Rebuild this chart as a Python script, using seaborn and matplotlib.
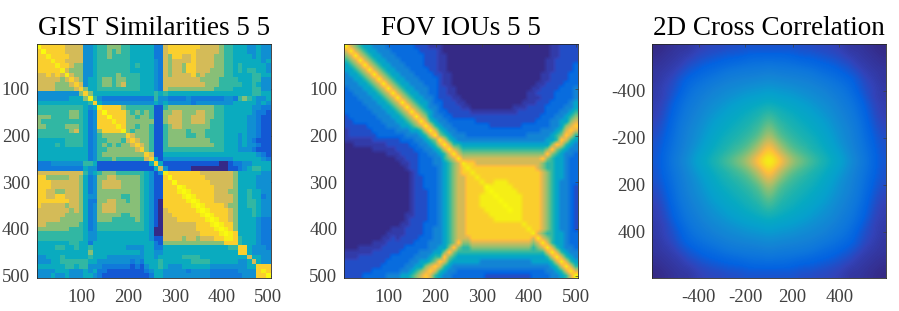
import numpy as np
import seaborn as sns
import matplotlib
matplotlib.use('Agg')
import matplotlib.pyplot as plt
from matplotlib.colors import LinearSegmentedColormap

# upper triangle of the symmetric matrices, one digit per 10 frames (0 low, a high, b between 0 and 1)
GIST_ROWS = [
    "a888887777 3345566655 4444422788 8888877776 5544433433",
    ".a88887777 3345565655 4444422788 8888777776 5544433433",
    "..98888777 3345565555 4444422768 8778777766 5544443433",
    "...9887777 3345555555 4444432767 7778777766 5544444434",
    "....988766 3345555555 4544432767 7688777766 5545444443",
    ".....97666 3345555555 4444432767 7688777666 5545455443",
    "......9766 3345555655 5544432767 7778676666 5544445544",
    ".......876 3445665665 5544432777 7777766665 5554445533",
    "........87 3445665675 5544432777 7777776665 5555445433",
    ".........8 6445555555 5544432766 6666666655 5544445533",
    ".......... 8644444444 4444454544 4444444444 4444445544",
    ".......... .953222222 2222253322 2232222222 3325654334",
    ".......... ..84333333 3333343433 3332333333 3344444343",
    ".......... ...9888865 5555511566 6666666655 4444443322",
    ".......... ....a88886 5656511667 7666776655 4444443221",
    ".......... .....a8886 6566511677 7667776655 4444433211",
    ".......... ......9886 6666611677 7667776555 4444433211",
    ".......... .......986 6566511567 7666666555 4444433211",
    ".......... ........96 5666511566 6656665555 4444433211",
    ".......... .........8 7666511566 6655665555 4443433211",
    ".......... .......... 8766511566 6666666555 4443432111",
    ".......... .......... .876511566 6666666655 4443433211",
    ".......... .......... ..86511555 5555555555 4443332111",
    ".......... .......... ...8711444 4444444444 4444444321",
    ".......... .......... ....841333 3333333333 3344444432",
    ".......... .......... .....84111 1111111110 0122334444",
    ".......... .......... ......7311 1110000000 0112345544",
    ".......... .......... .......988 8888877777 7764444433",
    ".......... .......... ........a8 8888887777 7764444333",
    ".......... .......... .........a 8888888777 7764444333",
    ".......... .......... .......... a988888877 7764444333",
    ".......... .......... .......... .a98888877 7664454433",
    ".......... .......... .......... ..a9888877 7764454423",
    ".......... .......... .......... ...a988877 7764455433",
    ".......... .......... .......... ....a98888 7664455433",
    ".......... .......... .......... .....a9888 8764445433",
    ".......... .......... .......... ......a988 8764445433",
    ".......... .......... .......... .......a98 8764444322",
    ".......... .......... .......... ........a9 8864444322",
    ".......... .......... .......... .........a 9864444322",
    ".......... .......... .......... .......... a984444322",
    ".......... .......... .......... .......... .985444322",
    ".......... .......... .......... .......... ..85444322",
    ".......... .......... .......... .......... ...8843332",
    ".......... .......... .......... .......... ....843333",
    ".......... .......... .......... .......... .....74433",
    ".......... .......... .......... .......... ......7433",
    ".......... .......... .......... .......... .......888",
    ".......... .......... .......... .......... ........98",
    ".......... .......... .......... .......... .........a",
]

FOV_ROWS = [
    "9765443332 22222111bb b000000000 0000000000 0000bb1111",
    ".976544333 2222221111 b000000000 0000000000 0000bb1111",
    "..97654433 3222222111 bb00000000 0000000000 0000bb1111",
    "...9765443 3322222111 bb00000000 0000000000 000bb11111",
    "....976544 3332222111 bb00000000 0000000000 000bb11112",
    ".....97654 4333222211 bb00000000 0000000000 000bb11112",
    "......9765 4433322221 1bb0000000 0000000000 00bb111122",
    ".......976 5443332222 1bb0000000 0000000000 00bb111122",
    "........97 6544333222 1bb0000000 0000000000 0bb1111222",
    ".........9 7654433322 11bb000000 0000000000 bb11112223",
    ".......... 9765443322 11bb000000 000000000b b111122223",
    ".......... .976544332 111bb00000 000000000b bb11122223",
    ".......... ..97654432 2111bb0000 00000000bb b111222234",
    ".......... ...9765433 21111bb000 000000bbb1 1112222334",
    ".......... ....976543 2211111bbb bbbbbbb111 1112223345",
    ".......... .....97643 3221111111 1111111111 1122233456",
    ".......... ......9754 3322222211 1111111111 1222334467",
    ".......... .......975 4332222222 2111111122 2222334678",
    ".......... ........97 5433222222 2222222222 2233345787",
    ".......... .........9 6543332222 2222222223 3333456875",
    ".......... .......... 9754333333 3333333333 3334458754",
    ".......... .......... .975544444 4444444444 4444687543",
    ".......... .......... ..97655555 5555555555 5556865433",
    ".......... .......... ...9766666 6666666666 6668654332",
    ".......... .......... ....977777 7777777777 7786544322",
    ".......... .......... .....98877 7777777777 7765544322",
    ".......... .......... ......9888 8888888888 8765544322",
    ".......... .......... .......988 8888888888 8876544322",
    ".......... .......... ........98 8888888888 8876544322",
    ".......... .......... .........9 8899988888 8876543322",
    ".......... .......... .......... a999998888 8876543321",
    ".......... .......... .......... .a99999888 8876543321",
    ".......... .......... .......... ..a9999988 8876543321",
    ".......... .......... .......... ...a999988 8876543321",
    ".......... .......... .......... ....a99988 8876543321",
    ".......... .......... .......... .....a9988 8876543321",
    ".......... .......... .......... ......9988 8876543321",
    ".......... .......... .......... .......988 8876543321",
    ".......... .......... .......... ........98 8876543321",
    ".......... .......... .......... .........9 8876543321",
    ".......... .......... .......... .......... 9765544322",
    ".......... .......... .......... .......... .976544322",
    ".......... .......... .......... .......... ..97544322",
    ".......... .......... .......... .......... ...9754332",
    ".......... .......... .......... .......... ....975433",
    ".......... .......... .......... .......... .....97543",
    ".......... .......... .......... .......... ......9754",
    ".......... .......... .......... .......... .......975",
    ".......... .......... .......... .......... ........97",
    ".......... .......... .......... .......... .........a",
]

# one quadrant of the cross correlation, centre at top left, mirrored below
CORR_QUADRANT = [
    [100, 92, 78, 66, 60, 55, 50, 46, 41, 36, 30, 24, 18, 13, 10],
    [92, 78, 66, 58, 54, 50, 47, 43, 38, 34, 28, 22, 17, 13, 9],
    [82, 68, 58, 53, 50, 47, 44, 40, 36, 31, 26, 21, 16, 12, 9],
    [70, 58, 53, 50, 47, 45, 42, 38, 34, 29, 25, 20, 15, 11, 8],
    [62, 54, 50, 47, 45, 42, 39, 36, 32, 28, 24, 19, 14, 10, 7],
    [56, 50, 47, 45, 42, 40, 37, 34, 30, 26, 22, 18, 13, 9, 6],
    [50, 47, 44, 42, 39, 37, 34, 31, 28, 24, 21, 16, 12, 8, 5],
    [44, 42, 40, 38, 36, 34, 31, 29, 26, 22, 19, 15, 11, 7, 5],
    [38, 36, 35, 34, 32, 30, 28, 26, 23, 20, 17, 13, 9, 6, 4],
    [33, 32, 31, 30, 28, 27, 25, 23, 20, 18, 15, 11, 8, 6, 4],
    [28, 27, 26, 25, 24, 23, 21, 19, 17, 15, 13, 10, 7, 5, 3],
    [23, 22, 21, 21, 20, 19, 17, 15, 14, 12, 10, 8, 5, 4, 3],
    [18, 17, 17, 16, 15, 14, 13, 12, 11, 9, 8, 5, 4, 3, 2],
    [13, 13, 13, 12, 11, 11, 10, 9, 8, 7, 5, 4, 3, 2, 1],
    [9, 9, 9, 9, 8, 8, 7, 7, 6, 5, 3, 3, 2, 1, 0],
]

TITLES = ['GIST Similarities 5 5', 'FOV IOUs 5 5', '2D Cross Correlation']
FRAME_TICKS = [100, 200, 300, 400, 500]
# the original labels four evenly spaced ticks, so they do not sit at their own value
LAG_TICKS = [-398, -133, 133, 398]
LAG_LABELS = [-400, -200, 200, 400]
LAG_LIMIT = 660
# where each digit of the rows falls on the colour scale
GIST_POS = np.array([0.0, 0.1, 0.2, 0.3, 0.42, 0.5, 0.62, 0.74, 0.87, 0.95, 1.0, 0.05])
FOV_POS = np.array([0.0, 0.08, 0.15, 0.25, 0.38, 0.5, 0.62, 0.74, 0.87, 0.95, 1.0, 0.04])

PARULA = [
    (0.2081, 0.1663, 0.5292), (0.1959, 0.2645, 0.7279), (0.0117, 0.3875, 0.8820),
    (0.0498, 0.4586, 0.8641), (0.0779, 0.5040, 0.8384), (0.0641, 0.5570, 0.8240),
    (0.0239, 0.6287, 0.8038), (0.0267, 0.6642, 0.7607), (0.1133, 0.7015, 0.6859),
    (0.2586, 0.7317, 0.5954), (0.4420, 0.7481, 0.5033), (0.6099, 0.7473, 0.4337),
    (0.7525, 0.7384, 0.3768), (0.8824, 0.7274, 0.3217), (0.9938, 0.7455, 0.2403),
    (0.9789, 0.8271, 0.1633), (0.9598, 0.9218, 0.0948), (0.9763, 0.9831, 0.0538),
]


def read_rows(rows, positions):
    # fill the lower triangle from the upper one
    cells = [r.replace(' ', '') for r in rows]
    m = np.array([[0 if c == '.' else int(c, 16) for c in r] for r in cells])
    m = m + np.triu(m, 1).T
    return positions[m]


def style_axis(ax, title):
    ax.set_title(title, fontsize=19.5, color='black', pad=7)
    ax.tick_params(direction='in', length=2, width=0.5, colors='#404040', labelsize=13.5,
                   top=True, right=True, pad=5)
    ax.tick_params(axis='x', pad=8)
    for spine in ax.spines.values():
        spine.set_visible(True)
        spine.set_linewidth(0.6)
        spine.set_color('#262626')


sns.set_theme(style='white')
plt.rcParams['font.family'] = ['Liberation Serif', 'DejaVu Serif']

parula = LinearSegmentedColormap.from_list('parula', PARULA, N=256)

W, H = 899, 311
fig = plt.figure(figsize=(W / 100, H / 100), dpi=100)
boxes = [(36.7, 270.5), (344.3, 578.3), (652.3, 885.7)]
axes = [fig.add_axes([l / W, 1 - 278 / H, (r - l) / W, 233.5 / H]) for l, r in boxes]

# cells are centred on 10, 20 ... 500
frame_pos = [(v - 5) / 10 for v in FRAME_TICKS]

ax = axes[0]
sns.heatmap(read_rows(GIST_ROWS, GIST_POS), ax=ax, cmap=parula, vmin=0, vmax=1, cbar=False,
            xticklabels=False, yticklabels=False)
ax.set_xticks(frame_pos)
ax.set_xticklabels(FRAME_TICKS, rotation=0)
ax.set_yticks(frame_pos)
ax.set_yticklabels(FRAME_TICKS, rotation=0)
style_axis(ax, TITLES[0])

# the FOV levels are coarse, smooth them when drawn only
ax = axes[1]
ax.imshow(read_rows(FOV_ROWS, FOV_POS), cmap=parula, vmin=0, vmax=1, interpolation='bilinear',
          aspect='auto', extent=[0, 50, 50, 0])
ax.set_xticks(frame_pos)
ax.set_xticklabels(FRAME_TICKS)
ax.set_yticks(frame_pos)
ax.set_yticklabels(FRAME_TICKS)
ax.grid(False)
style_axis(ax, TITLES[1])

q = np.array(CORR_QUADRANT, dtype=float)
top = np.hstack([q[:, :0:-1], q])
corr = np.vstack([top[:0:-1], top])
ax = axes[2]
ax.imshow(corr, cmap=parula, vmin=0, vmax=100, interpolation='bicubic', aspect='auto',
          extent=[-LAG_LIMIT, LAG_LIMIT, LAG_LIMIT, -LAG_LIMIT])
ax.set_xticks(LAG_TICKS)
ax.set_xticklabels(LAG_LABELS)
ax.set_yticks(LAG_TICKS)
ax.set_yticklabels(LAG_LABELS)
ax.grid(False)
style_axis(ax, TITLES[2])

plt.savefig('out.png', dpi=100)
